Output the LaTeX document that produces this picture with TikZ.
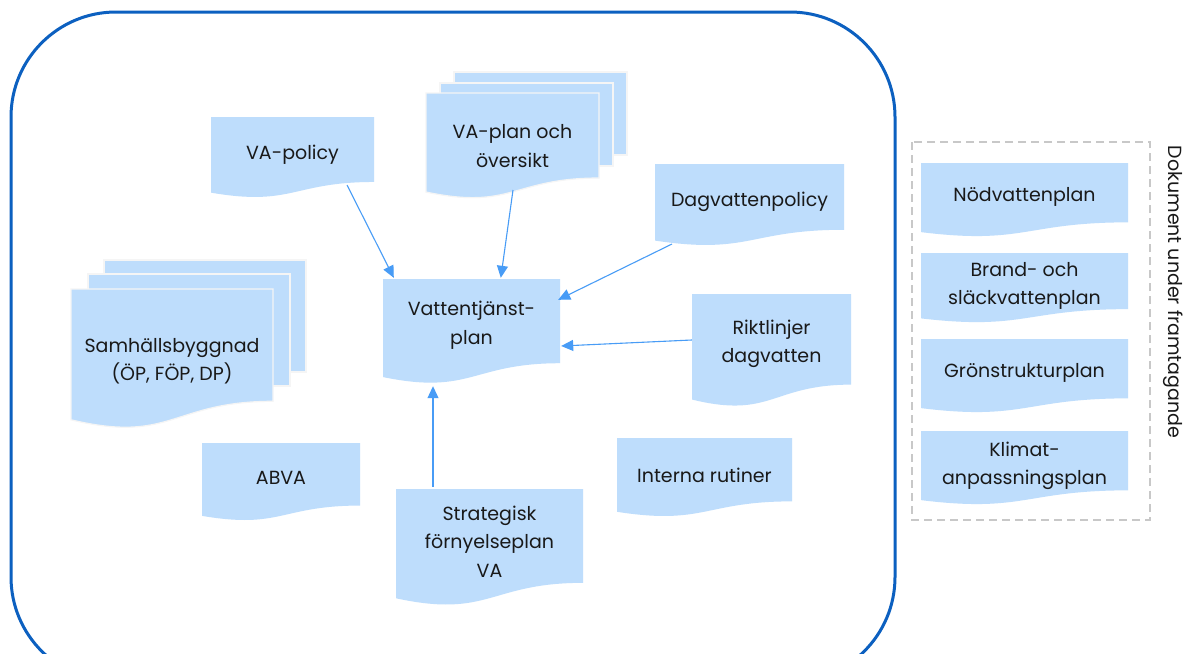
\documentclass[tikz,border=0pt]{standalone}
\usepackage{fontspec}
\setmainfont{Poppins}
\usetikzlibrary{arrows.meta,calc,backgrounds}
\definecolor{docfillc}{RGB}{190,221,252}
\definecolor{framec}{RGB}{12,96,192}
\definecolor{arrowc}{RGB}{72,156,246}
\definecolor{dashc}{RGB}{200,200,200}
\definecolor{textc}{RGB}{25,25,25}
\tikzset{
  docfill/.style={fill=docfillc},
  backpage/.style={fill=docfillc,draw=white!92!gray,line width=1.2pt},
  doctext/.style={inner sep=0pt,align=center,text=textc,font=\fontsize{19}{28.5}\selectfont},
  conn/.style={draw=arrowc,line width=1.1pt,-{Triangle[length=12pt,width=11pt]}},
}
\newcommand\docshape[4]{%
  \fill[docfill] (#1,#2) -- ({#1+#3},#2) -- ({#1+#3},{#2+0.802*#4})
    .. controls ({#1+0.5*#3},{#2+0.802*#4}) and ({#1+0.5*#3},{#2+1.107*#4}) ..
    (#1,{#2+0.934*#4}) -- cycle;}
\newcommand\docfront[4]{%
  \filldraw[backpage] (#1,#2) -- ({#1+#3},#2) -- ({#1+#3},{#2+0.802*#4})
    .. controls ({#1+0.5*#3},{#2+0.802*#4}) and ({#1+0.5*#3},{#2+1.107*#4}) ..
    (#1,{#2+0.934*#4}) -- cycle;}
\begin{document}
\begin{tikzpicture}[x=1pt,y=-1pt]
\useasboundingbox (0,0) rectangle (1185,653);
\clip (0,0) rectangle (1185,653);
\fill[white] (0,0) rectangle (1185,653);
% outer frame
\draw[framec,line width=3pt,rounded corners=105pt] (11,12) rectangle (895,682);
% document shapes
\docshape{211}{117}{163}{81}
% VA-plan stack
\filldraw[backpage] (454,72) rectangle ++(173,83);
\filldraw[backpage] (440,83) rectangle ++(173,83);
\docfront{426}{93}{173}{106}
\docshape{655}{164}{189}{82}
\docshape{383}{279}{177}{105}
\docshape{692}{294}{159}{113}
% Samhallsbyggnad stack
\filldraw[backpage] (104,260) rectangle ++(202,112);
\filldraw[backpage] (88,274) rectangle ++(202,112);
\docfront{71}{289}{202}{140}
\docshape{202}{443}{158}{78}
\docshape{617}{438}{175}{79}
\docshape{396}{489}{187}{117}
% right group
\draw[dashc,line width=2.5pt,dash pattern=on 8pt off 5pt] (912,142) rectangle (1150,520);
\docshape{921}{163}{207}{74}
\docshape{921}{253}{207}{70}
\docshape{921}{339}{207}{74}
\docshape{921}{431}{207}{74}
% texts (nodes)
\node[doctext,minimum width=163pt,minimum height=76pt] (vapol) at (292.5,155) {VA-policy};
\node[doctext,minimum width=173pt,minimum height=106pt] (vaplan) at (512.5,146) {VA-plan och\\översikt};
\node[doctext,minimum width=189pt,minimum height=76pt] (dagpol) at (749.5,202) {Dagvattenpolicy};
\node[doctext,minimum width=177pt,minimum height=92pt] (vtp) at (471.5,325) {Vattentjänst-\\plan};
\node[doctext,minimum width=159pt,minimum height=100pt] (rikt) at (771.5,344) {Riktlinjer\\dagvatten};
\node[doctext,minimum width=202pt,minimum height=144pt] (samh) at (172,361) {Samhällsbyggnad\\(ÖP, FÖP, DP)};
\node[doctext,minimum width=158pt,minimum height=70pt] (abva) at (281,478) {ABVA};
\node[doctext,minimum width=175pt,minimum height=74pt] (interna) at (704.5,475) {Interna rutiner};
\node[doctext,minimum width=187pt,minimum height=105pt] (strat) at (489.5,541.5) {Strategisk\\förnyelseplan\\VA};
\node[doctext,minimum width=207pt,minimum height=68pt] (nod) at (1024.5,197) {Nödvattenplan};
\node[doctext,minimum width=207pt,minimum height=66pt] (brand) at (1024.5,286) {Brand- och\\släckvattenplan};
\node[doctext,minimum width=207pt,minimum height=68pt] (gron) at (1024.5,373) {Grönstrukturplan};
\node[doctext,minimum width=207pt,minimum height=70pt] (klimat) at (1024.5,466) {Klimat-\\anpassningsplan};
\node[text=textc,font=\fontsize{19}{22}\selectfont,rotate=-90,inner sep=0pt] (dok) at (1173,292) {Dokument under framtagande};
% connectors
\draw[conn] ($(vapol.center)+(54.5,30)$) -- ($(vtp.north west)+(11,-1)$);
\draw[conn] ($(vaplan.center)+(0.5,44)$) -- ($(vtp.north west)+(118,-1)$);
\draw[conn] ($(dagpol.center)+(-77.5,42)$) -- ($(vtp.north east)+(-2,21)$);
\draw[conn] ($(rikt.west)+(0,-4)$) -- ($(vtp.east)+(1,21)$);
\draw[conn] ($(strat.north)+(-56.5,-2)$) -- ($(vtp.south)+(-38.5,15)$);
\end{tikzpicture}
\end{document}
